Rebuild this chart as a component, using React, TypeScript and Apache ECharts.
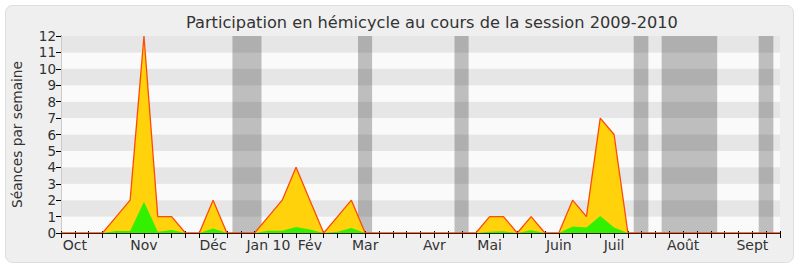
import React, { useEffect, useRef } from "react";
import * as echarts from "echarts";

const title = "Participation en hémicycle au cours de la session 2009-2010";
const yName = "Séances par semaine";

// week index -> month label
const monthLabels: [number, string][] = [
  [1, "Oct"], [6, "Nov"], [11, "Déc"], [15, "Jan 10"], [18, "Fév"], [22, "Mar"],
  [27, "Avr"], [31, "Mai"], [36, "Juin"], [40, "Juil"], [45, "Août"], [50, "Sept"],
];

// total sittings per week (yellow)
const totalSeances = [
  0, 0, 0, 0, 1, 2, 12, 1, 1, 0,
  0, 2, 0, 0, 0, 1, 2, 4, 2, 0,
  1, 2, 0, 0, 0, 0, 0, 0, 0, 0,
  0, 1, 1, 0, 1, 0, 0, 2, 1, 7,
  6, 0, 0, 0, 0, 0, 0, 0, 0, 0,
  0, 0, 0,
];

// interventions per week (green)
const interventions = [
  0, 0, 0, 0, 0.12, 0.12, 1.9, 0.07, 0.18, 0,
  0, 0.28, 0, 0, 0, 0.14, 0.14, 0.37, 0.22, 0,
  0.08, 0.3, 0, 0, 0, 0, 0, 0, 0, 0,
  0, 0.08, 0.1, 0, 0.17, 0, 0, 0.4, 0.33, 1.04,
  0.33, 0, 0, 0, 0, 0, 0, 0, 0, 0,
  0, 0, 0,
];

// vacation periods (in week units)
const vacations: [number, number][] = [
  [12.4, 14.5], [21.48, 22.5], [28.46, 29.48], [41.42, 42.48], [43.44, 47.46], [50.46, 51.52],
];

const FONT = "DejaVu Sans";

export default function App() {
  const ref = useRef<HTMLDivElement>(null);
  useEffect(() => {
    document.body.style.margin = "0";
    const chart = echarts.init(ref.current!, null, { renderer: "svg" });
    const labelMap: Record<number, string> = {};
    monthLabels.forEach(([i, s]) => (labelMap[i] = s));
    chart.setOption({
      animation: false,
      backgroundColor: "#ffffff",
      textStyle: { fontFamily: FONT },
      graphic: [
        {
          type: "rect",
          z: -10,
          shape: { x: 5.5, y: 5.5, width: 788, height: 257, r: 7 },
          style: { fill: "#efefef", stroke: "#dedede", lineWidth: 1 },
        },
      ],
      title: {
        text: title,
        left: 181,
        top: 9,
        textStyle: { fontFamily: FONT, fontSize: 16.2, fontWeight: "normal", color: "#333333" },
      },
      grid: { left: 61, right: 20, top: 36, bottom: 34 },
      xAxis: [
        {
          type: "value",
          min: 0,
          max: 52,
          interval: 1,
          axisLine: { show: true, lineStyle: { color: "#3a1a14", width: 1 } },
          axisTick: { show: true, length: 5, lineStyle: { color: "#000" } },
          axisLabel: {
            show: true,
            margin: 5,
            fontFamily: FONT,
            fontSize: 14,
            color: "#333",
            formatter: (v: number) => labelMap[Math.round(v)] || "",
          },
          splitLine: { show: false },
          z: 5,
        },
        {
          type: "value",
          position: "top",
          min: 0,
          max: 52,
          interval: 1,
          axisLine: { show: false },
          axisTick: { show: true, length: 2, lineStyle: { color: "#000" } },
          axisLabel: { show: false },
          splitLine: { show: false },
        },
      ],
      yAxis: [
        {
          type: "value",
          min: 0,
          max: 12,
          interval: 1,
          name: yName,
          nameLocation: "middle",
          nameGap: 37,
          nameTextStyle: { fontFamily: FONT, fontSize: 13.7, color: "#333" },
          axisLine: { show: true, lineStyle: { color: "#000" } },
          axisTick: { show: true, length: 5, lineStyle: { color: "#000" } },
          axisLabel: { fontFamily: FONT, fontSize: 13.5, color: "#333", margin: 5 },
          splitLine: { show: false },
          splitArea: { show: true, areaStyle: { color: ["#fafafa", "#e6e6e6"] } },
        },
        {
          type: "value",
          position: "right",
          min: 0,
          max: 12,
          interval: 1,
          axisLine: { show: true, lineStyle: { color: "#cccccc" } },
          axisTick: { show: false },
          axisLabel: { show: false },
          splitLine: { show: false },
        },
      ],
      series: [
        {
          type: "line",
          data: [],
          z: 1,
          markArea: {
            silent: true,
            itemStyle: { color: "rgba(0,0,0,0.24)" },
            data: vacations.map(([a, b]) => [{ xAxis: a }, { xAxis: b }]),
          },
        },
        {
          type: "line",
          data: totalSeances.map((v, i) => [i, v]),
          symbol: "none",
          z: 3,
          lineStyle: { color: "#ff4a0a", width: 1.3 },
          areaStyle: { color: "#ffd20c", opacity: 1 },
        },
        {
          type: "line",
          data: interventions.map((v, i) => [i, v]),
          symbol: "none",
          z: 4,
          lineStyle: { width: 0 },
          areaStyle: { color: "#33f000", opacity: 1 },
        },
      ],
    });
    return () => chart.dispose();
  }, []);
  return <div ref={ref} style={{ width: 800, height: 267 }} />;
}
